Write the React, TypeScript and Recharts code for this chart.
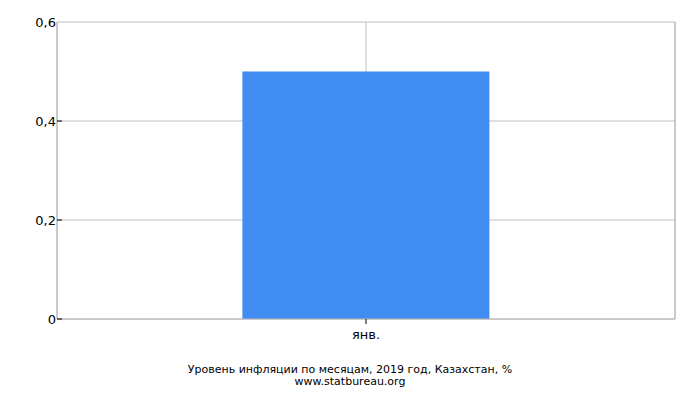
import { BarChart, Bar, XAxis, YAxis, CartesianGrid } from 'recharts';

const months = ['янв.'];
const inflation = [0.5];
const yTicks = [0, 0.2, 0.4, 0.6];
const titleLines = ['Уровень инфляции по месяцам, 2019 год, Казахстан, %', 'www.statbureau.org'];

const data = months.map((m, i) => ({ month: m, value: inflation[i] }));

const fmt = (v: number) => String(v).replace('.', ',');

const YTick = (props: any) => {
    const { x, y, payload } = props;
    const isTop = payload.value === yTicks[yTicks.length - 1];
    return (
        <g>
            {!isTop && <line x1={x} x2={x + 5} y1={y} y2={y} stroke="#000" />}
            <text x={x - 1} y={y} dy={5} textAnchor="end" fontSize={13} fill="#000">
                {fmt(payload.value)}
            </text>
        </g>
    );
};

export default function App() {
    return (
        <div style={{ position: 'absolute', left: 0, top: 0, width: 700, height: 400, fontFamily: '"DejaVu Sans", sans-serif', background: '#fff' }}>
            <BarChart width={700} height={400} data={data} margin={{ top: 22, right: 0, bottom: 51, left: 0 }} barCategoryGap="30%">
                <CartesianGrid stroke="#c0c0c0" />
                <XAxis
                    xAxisId="edges"
                    type="number"
                    domain={[0, 1]}
                    ticks={[0, 1]}
                    axisLine={false}
                    tick={false}
                    tickLine={{ stroke: '#000' }}
                    tickSize={5}
                    height={0}
                />
                <XAxis
                    dataKey="month"
                    stroke="#b4b4b4"
                    tick={{ fill: '#000', fontSize: 13 }}
                    tickLine={{ stroke: '#000' }}
                    tickSize={5}
                    tickMargin={6}
                    height={30}
                />
                <YAxis
                    domain={[0, 0.6]}
                    ticks={yTicks}
                    width={57}
                    stroke="#b4b4b4"
                    tickLine={false}
                    tick={<YTick />}
                    tickSize={0}
                    tickMargin={0}
                />
                <YAxis yAxisId="right" orientation="right" width={25} stroke="#b4b4b4" tick={false} tickLine={false} />
                <Bar dataKey="value" fill="#418cf0" isAnimationActive={false} />
            </BarChart>
            <div style={{ position: 'absolute', left: 0, top: 364, width: 700, textAlign: 'center', fontSize: 11, lineHeight: '12px', color: '#000' }}>
                {titleLines.map((t) => (
                    <div key={t}>{t}</div>
                ))}
            </div>
        </div>
    );
}
